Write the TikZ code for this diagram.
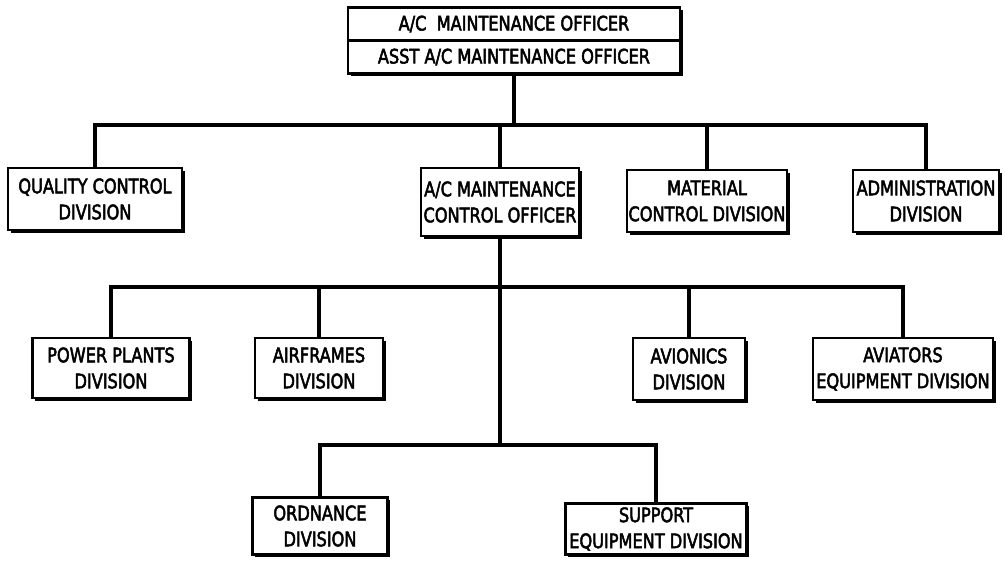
\documentclass[tikz,border=0pt]{standalone}
\usepackage{fontspec}
\setmainfont{DejaVu Sans Condensed}[FakeStretch=0.9, FakeBold=2.5]
\usepackage{tikz}
\usetikzlibrary{shapes,positioning,calc,shadows}

\begin{document}
\begin{tikzpicture}[
      x=0.025cm, y=-0.025cm,
      every node/.style={rectangle, align=center, font=\fontsize{14.2}{18.5}\selectfont},
      division/.style={draw, line width=1.6pt, fill=white, inner xsep=1pt, inner ysep=0pt,
        drop shadow={shadow xshift=2pt, shadow yshift=-2pt, fill=black, opacity=1}},
      head/.style={division, minimum width=332*0.025cm, minimum height=33*0.025cm},
      link/.style={line width=2.8pt}
    ]
      \useasboundingbox (0,0) rectangle (1005,562);
      % top office
      \node[head] (mo) at (514,24) {A/C\ \ MAINTENANCE OFFICER};
      \node[head, below=-1.6pt of mo] (asst) {ASST A/C MAINTENANCE OFFICER};
      % first level
      \node[division, minimum width=174*0.025cm, minimum height=62*0.025cm] (qc) at (95,199) {QUALITY CONTROL\\DIVISION};
      \node[division, minimum width=158*0.025cm, minimum height=68*0.025cm] (ctrl) at (500,202) {A/C MAINTENANCE\\CONTROL OFFICER};
      \node[division, minimum width=134*0.025cm, minimum height=62*0.025cm] (mat) at (707,201) {MATERIAL\\CONTROL DIVISION};
      \node[division, minimum width=146*0.025cm, minimum height=62*0.025cm] (adm) at (926,201) {ADMINISTRATION\\DIVISION};
      % second level
      \node[division, minimum width=157*0.025cm, minimum height=60*0.025cm] (pp) at (111,368) {POWER PLANTS\\DIVISION};
      \node[division, minimum width=128*0.025cm, minimum height=60*0.025cm] (af) at (319,368) {AIRFRAMES\\DIVISION};
      \node[division, minimum width=112*0.025cm, minimum height=62*0.025cm] (av) at (689,369) {AVIONICS\\DIVISION};
      \node[division, minimum width=180*0.025cm, minimum height=62*0.025cm] (ae) at (903,369) {AVIATORS\\EQUIPMENT DIVISION};
      % third level
      \node[division, minimum width=135*0.025cm, minimum height=57*0.025cm] (ord) at (320,526) {ORDNANCE\\DIVISION};
      \node[division, minimum width=181*0.025cm, minimum height=51*0.025cm] (se) at (656,529) {SUPPORT\\EQUIPMENT DIVISION};
      % connectors
      \coordinate (bus1) at (0,125);
      \coordinate (bus2) at (0,287);
      \coordinate (bus3) at (0,445);
      \draw[link] (asst.south) -- (asst.south |- bus1);
      \draw[link] (qc.north) |- (adm.north |- bus1) -- (adm.north);
      \draw[link] (ctrl.north) -- (ctrl.north |- bus1);
      \draw[link] (mat.north) -- (mat.north |- bus1);
      \draw[link] (ctrl.south) -- (ctrl.south |- bus3);
      \draw[link] (pp.north) |- (ae.north |- bus2) -- (ae.north);
      \draw[link] (af.north) -- (af.north |- bus2);
      \draw[link] (av.north) -- (av.north |- bus2);
      \draw[link] (ord.north) |- (se.north |- bus3) -- (se.north);
    \end{tikzpicture}
\end{document}
